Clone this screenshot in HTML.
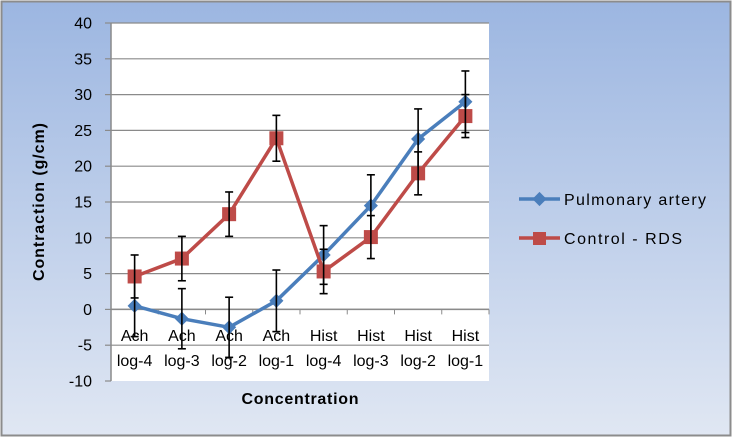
<!DOCTYPE html>
<html><head><meta charset="utf-8"><style>
body{margin:0;width:732px;height:438px;overflow:hidden;font-family:"Liberation Sans",sans-serif}
</style></head><body>
<svg width="732" height="438" xmlns="http://www.w3.org/2000/svg" font-family="Liberation Sans, sans-serif">
<defs><linearGradient id="bg" x1="0" y1="0" x2="0" y2="1"><stop offset="0" stop-color="#9cb6e1"/><stop offset="1" stop-color="#e0e7f3"/></linearGradient></defs>
<rect x="1.5" y="1.5" width="729" height="434" fill="url(#bg)" stroke="#8c8c8c" stroke-width="2"/>
<rect x="111" y="23" width="378" height="358" fill="#fff"/>
<g id="grid"></g>
<g id="axes"></g>
<g id="series"></g>
<text x="0" y="0" transform="translate(44,202) rotate(-90)" text-anchor="middle" font-size="16" font-weight="bold" textLength="158">Contraction (g/cm)</text>
<text x="300" y="404" text-anchor="middle" font-size="16" font-weight="bold" textLength="117">Concentration</text>
<g>
<g><line x1="519" y1="199" x2="560" y2="199" stroke="#4a7ebb" stroke-width="3.5"/><rect x="534.5" y="194" width="10" height="10" fill="#4a7ebb" transform="rotate(45 539.5 199)"/><text x="564" y="205" font-size="16" textLength="142">Pulmonary artery</text></g>
<g><line x1="519" y1="238" x2="560" y2="238" stroke="#be4b48" stroke-width="3.5"/><rect x="533" y="232" width="13" height="13" fill="#be4b48"/><text x="564" y="244" font-size="16" textLength="118">Control - RDS</text></g>
</g>
</svg>
<script>
const categories1=["Ach","Ach","Ach","Ach","Hist","Hist","Hist","Hist"];
const categories2=["log-4","log-3","log-2","log-1","log-4","log-3","log-2","log-1"];
const pulmonary=[0.5,-1.3,-2.5,1.2,7.6,14.5,23.8,29.0];
const pulmonaryErr=[4.3,4.2,4.2,4.3,4.1,4.3,4.2,4.3];
const control=[4.6,7.1,13.3,23.9,5.3,10.1,19.0,27.0];
const controlErr=[3.0,3.1,3.1,3.2,3.1,3.0,3.0,3.0];
const yTicks=[-10,-5,0,5,10,15,20,25,30,35,40];
const NS="http://www.w3.org/2000/svg";
const L=111,R=489,T=23,B=381,yMin=-10,yMax=40;
const y=v=>B-(v-yMin)/(yMax-yMin)*(B-T);
const bw=(R-L)/categories1.length;
const x=i=>L+bw*(i+0.5);
function mk(tag,attrs,parent){const e=document.createElementNS(NS,tag);for(const k in attrs)e.setAttribute(k,attrs[k]);parent.appendChild(e);return e;}
const grid=document.getElementById('grid'),axes=document.getElementById('axes'),ser=document.getElementById('series');
yTicks.forEach(t=>{
 if(t!==yMin){const g=mk('line',{x1:L,x2:R,y1:y(t),y2:y(t),stroke:'#8a8a8a','stroke-width':1.2},grid);
 
 }
 mk('line',{x1:105,x2:L,y1:y(t),y2:y(t),stroke:'#8a8a8a','stroke-width':1.2},axes);
 const lb=mk('text',{x:92,y:y(t)+5.5,'text-anchor':'end','font-size':16},axes);lb.textContent=t;
 
 
});
mk('line',{x1:L,x2:L,y1:T,y2:B,stroke:'#8a8a8a','stroke-width':1.5},axes);
mk('line',{x1:L,x2:R,y1:y(0),y2:y(0),stroke:'#8a8a8a','stroke-width':1.5},axes);
for(let i=0;i<=categories1.length;i++){mk('line',{x1:L+bw*i,x2:L+bw*i,y1:y(0),y2:y(0)+5,stroke:'#8a8a8a','stroke-width':1},axes);}
categories1.forEach((c,i)=>{
 const t1=mk('text',{x:x(i),y:341,'text-anchor':'middle','font-size':16},axes);t1.textContent=c;
 
 
 const t2=mk('text',{x:x(i),y:366,'text-anchor':'middle','font-size':16},axes);t2.textContent=categories2[i];
 
 
});
function drawSeries(vals,errs,color,shape,name){
 const g=mk('g',{},ser);
 
 
 mk('polyline',{points:vals.map((v,i)=>x(i)+','+y(v)).join(' '),fill:'none',stroke:color,'stroke-width':3.5,'stroke-linejoin':'round'},g);
 vals.forEach((v,i)=>{
  const cx=x(i),cy=y(v);
  if(shape==='diamond'){const m=mk('rect',{x:cx-5,y:cy-5,width:10,height:10,fill:color,transform:`rotate(45 ${cx} ${cy})`},g);
   
   }
  else{const m=mk('rect',{x:cx-7,y:cy-7,width:14,height:14,fill:color},g);
   
   }
 });
 vals.forEach((v,i)=>{
  const cx=x(i),e=errs[i];
  const eg=mk('g',{stroke:'#000','stroke-width':1.6},g);
  
  
  mk('line',{x1:cx,x2:cx,y1:y(v+e),y2:y(v-e)},eg);
  mk('line',{x1:cx-4,x2:cx+4,y1:y(v+e),y2:y(v+e)},eg);
  mk('line',{x1:cx-4,x2:cx+4,y1:y(v-e),y2:y(v-e)},eg);
 });
}
drawSeries(pulmonary,pulmonaryErr,'#4a7ebb','diamond','pulmonary');
drawSeries(control,controlErr,'#be4b48','square','control');
</script>
</body></html>
